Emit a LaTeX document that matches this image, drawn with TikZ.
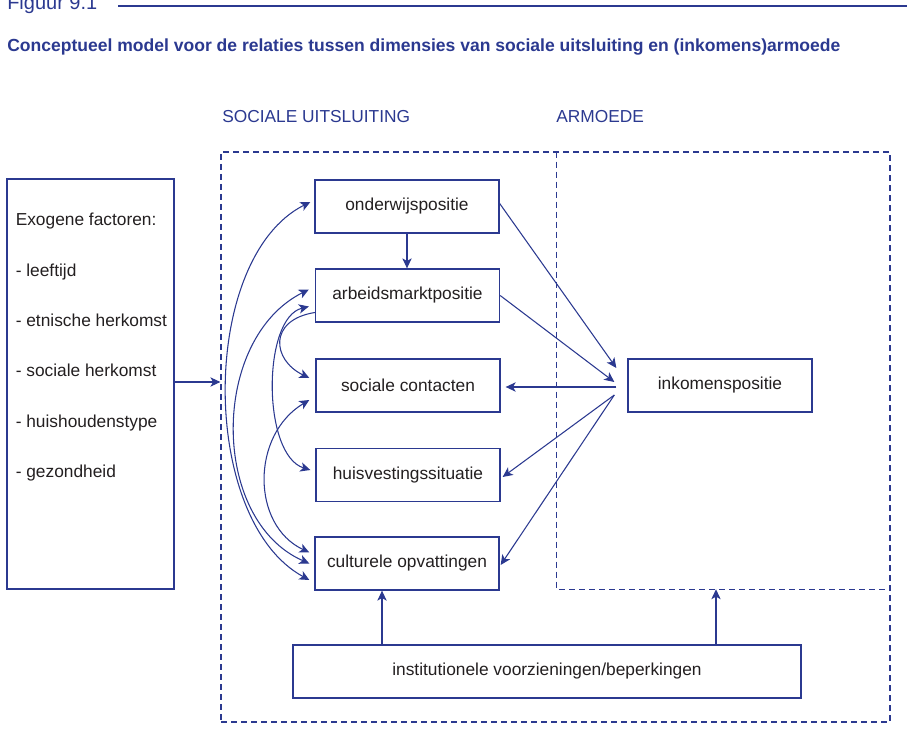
\documentclass[tikz,border=0pt]{standalone}
\usepackage{fontspec}
\setmainfont{Liberation Sans}
\usepackage{graphicx}
\usetikzlibrary{arrows.meta,calc,fit}
\definecolor{sblue}{RGB}{43,57,144}
\definecolor{stext}{RGB}{35,31,32}
\begin{document}
\begin{tikzpicture}[x=0.75pt,y=-0.75pt,
  box/.style={draw=sblue,line width=1pt,minimum width=138pt,minimum height=39.75pt,inner sep=0pt,font=\fontsize{13}{15}\selectfont,text=stext},
  arr/.style={draw=sblue,line width=0.8pt,-{Stealth[length=7.5pt,width=7pt,inset=2pt]}},
  darr/.style={draw=sblue,line width=0.8pt,{Stealth[length=7.5pt,width=7pt,inset=2pt]}-{Stealth[length=7.5pt,width=7pt,inset=2pt]}},
  dashbox/.style={draw=sblue,line width=0.9pt,dash pattern=on 4.5pt off 3pt},
  lbl/.style={font=\fontsize{13}{15}\selectfont,text=stext,anchor=base west,inner sep=0pt},
  hdr/.style={font=\fontsize{13}{15}\selectfont,text=sblue,anchor=west,inner sep=0pt}]
\useasboundingbox (0,0) rectangle (907,752);

% header
\node[anchor=base west,inner sep=0pt,text=sblue,font=\fontsize{15}{17}\selectfont] (fig) at (7,9.5) {Figuur 9.1};
\coordinate (l1) at (118,6);
\coordinate (l2) at (907,6);
\draw[sblue,line width=0.9pt] (l1) -- (l2);
\node[anchor=west,inner sep=0pt,text=sblue] (title) at (7,47) {\resizebox{624.75pt}{!}{\fontsize{13}{15}\selectfont\bfseries Conceptueel model voor de relaties tussen dimensies van sociale uitsluiting en (inkomens)armoede}};
\node[hdr] (hs) at (222,117) {SOCIALE UITSLUITING};
\node[hdr] (ha) at (556,117) {ARMOEDE};

% dashed regions
\node[fit={(221,152) (890,722)},inner sep=0pt,dashbox] (sx) {};
\node[fit={(557,152) (890,589)},inner sep=0pt] (arm) {};
\draw[dashbox,line width=1.1pt] (arm.north west) -- (arm.south west) -- (arm.south east);

% exogenous box
\node[fit={(7,179) (174,589)},inner sep=0pt,draw=sblue,line width=1pt] (exo) {};
\foreach \t [count=\i from 0] in {Exogene factoren:,- leeftijd,- etnische herkomst,- sociale herkomst,- huishoudenstype,- gezondheid}
  \node[lbl] (ex\i) at (15.5,226+50.3*\i) {\t};

% boxes
\node[box] (ond) at (407,206.5) {onderwijspositie};
\node[box] (arb) at (407.5,295.5) {arbeidsmarktpositie};
\node[box] (soc) at (408,385.5) {sociale contacten};
\node[box] (hui) at (408,475) {huisvestingssituatie};
\node[box] (cul) at (407,563.5) {culturele opvattingen};
\node[box] (ink) at (720,385.5) {inkomenspositie};
\node[box,minimum width=381pt] (inst) at (547,671.5) {institutionele voorzieningen/beperkingen};

% exo arrow
\coordinate (ey) at (0,382);
\draw[arr] (exo.east |- ey) -- (sx.west |- ey);

% onderwijs -> arbeid
\draw[arr] (ond.south) -- (ond.south |- arb.north);

% hub near inkomenspositie
\coordinate (h1) at ($(ink.west)+(-11,-17.5)$);
\coordinate (h2) at ($(ink.west)+(-13,-3.5)$);
\coordinate (h3) at ($(ink.west)+(-11,1.5)$);
\coordinate (h4) at ($(ink.west)+(-13,9.5)$);
\draw[arr] ($(ond.east)+(0,-3)$) -- (h1);
\draw[arr] (arb.east) -- (h2);
\draw[arr] (h3) -- ($(soc.east)+(5,1.5)$);
\draw[arr] (h4) -- ($(hui.east)+(2,2)$);
\draw[arr] (h4) -- ($(cul.east)+(1,1.5)$);

% institutional arrows
\coordinate (u1) at (382,0);
\coordinate (u2) at (716,0);
\draw[arr] (inst.north -| u1) -- (cul.south -| u1);
\draw[arr] (inst.north -| u2) -- (arm.south -| u2);

% curved connections
\draw[darr] ($(ond.west)+(-4,-4.5)$) .. controls (199,258) and (199,520) .. ($(cul.west)+(-5,16.5)$);
\draw[darr] ($(arb.west)+(-6,-6)$) .. controls (210,339) and (210,520) .. ($(cul.west)+(-5,0)$);
\draw[darr] ($(arb.west)+(-6,11)$) .. controls (262,318) and (262,455) .. ($(hui.west)+(-5,-5)$);
\draw[arr] ($(arb.west)+(0,17)$) .. controls (268,320) and (272,360) .. ($(soc.west)+(-6,-7.5)$);
\draw[darr] ($(soc.west)+(-6,14.5)$) .. controls (251,435) and (251,525) .. ($(cul.west)+(-5,-11)$);
\end{tikzpicture}
\end{document}
